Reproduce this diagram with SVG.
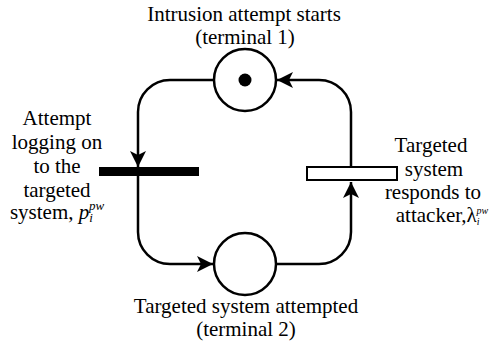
<svg xmlns="http://www.w3.org/2000/svg" width="493" height="354" viewBox="0 0 493 354">
<defs>
<marker id="ah" viewBox="0 0 16 16" refX="16" refY="8" markerWidth="16" markerHeight="16" markerUnits="userSpaceOnUse" orient="auto">
<path d="M0,0 L16,8 L0,16 L4,8 Z" fill="#000"/>
</marker>
<style>
.place{fill:#fff;stroke:#000;stroke-width:2.5}
.arc{fill:none;stroke:#000;stroke-width:2.5}
</style>
</defs>
<rect width="493" height="354" fill="#fff"/>
<g id="connectors">
<path class="arc" d="M214,80 H170 A32,32 0 0 0 138,112 V167" marker-end="url(#ah)"/>
<path class="arc" d="M138,176 V232 A32,32 0 0 0 170,264 H213" marker-end="url(#ah)"/>
<path class="arc" d="M276,264 H319 A32,32 0 0 0 351,232 V182" marker-end="url(#ah)"/>
<path class="arc" d="M351,166 V112 A32,32 0 0 0 319,80 H277" marker-end="url(#ah)"/>
</g>
<g id="p1">
<circle class="place" cx="245" cy="80" r="31"/>
<circle cx="245" cy="80" r="6.5" fill="#000"/>
<text x="244" y="21" font-family="Liberation Serif" font-size="21" text-anchor="middle">Intrusion attempt starts</text>
<text x="245" y="44" font-family="Liberation Serif" font-size="21" text-anchor="middle">(terminal 1)</text>
</g>
<g id="p2">
<circle class="place" cx="245" cy="264" r="31"/>
<text x="246" y="313" font-family="Liberation Serif" font-size="21" text-anchor="middle">Targeted system attempted</text>
<text x="246" y="336" font-family="Liberation Serif" font-size="21" text-anchor="middle">(terminal 2)</text>
</g>
<g id="t1">
<rect x="99" y="167" width="100" height="9" fill="#000"/>
<text x="57" y="125" font-family="Liberation Serif" font-size="21" text-anchor="middle">Attempt</text>
<text x="57" y="149" font-family="Liberation Serif" font-size="21" text-anchor="middle">logging on</text>
<text x="57" y="173" font-family="Liberation Serif" font-size="21" text-anchor="middle">to the</text>
<text x="57" y="197" font-family="Liberation Serif" font-size="21" text-anchor="middle">targeted</text>
<text x="57" y="219" font-family="Liberation Serif" font-size="21" text-anchor="middle">system, <tspan font-style="italic">p</tspan><tspan font-style="italic" font-size="13" dy="3">i</tspan><tspan font-style="italic" font-size="13" dx="-4" dy="-12">pw</tspan></text>
</g>
<g id="t2">
<rect x="307" y="167" width="90" height="13" fill="#fff" stroke="#000" stroke-width="2"/>
<text x="431" y="152" font-family="Liberation Serif" font-size="21" text-anchor="middle">Targeted</text>
<text x="434" y="176" font-family="Liberation Serif" font-size="21" text-anchor="middle">system</text>
<text x="433" y="199" font-family="Liberation Serif" font-size="21" text-anchor="middle">responds to</text>
<text x="442" y="222" font-family="Liberation Serif" font-size="21" text-anchor="middle">attacker,λ<tspan font-style="italic" font-size="10" dy="3">i</tspan><tspan font-style="italic" font-size="10" dx="-3" dy="-11">pw</tspan></text>
</g>
</svg>
